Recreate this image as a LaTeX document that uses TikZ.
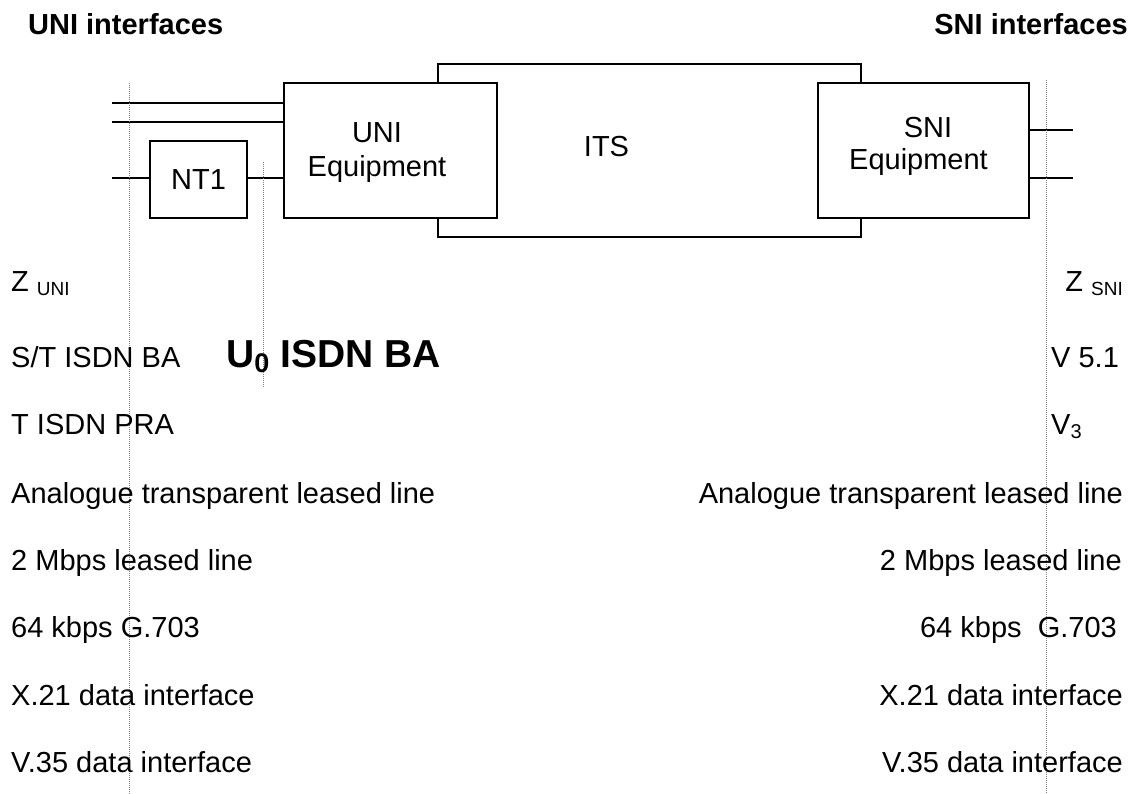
\documentclass[tikz,border=0pt]{standalone}
\usepackage{fontspec}
\setmainfont{Liberation Sans}
\begin{document}
\tikzset{
  box/.style={draw, line width=1.6pt, fill=white, inner sep=0pt},
  wire/.style={line width=1.6pt},
  refline/.style={draw=gray, line width=0.9pt, dash pattern=on 1pt off 1pt},
  txt/.style={inner sep=0pt, font=\fontsize{29}{34}\selectfont},
  hdr/.style={inner sep=0pt, font=\fontsize{29}{34}\selectfont\bfseries},
  big/.style={inner sep=0pt, font=\fontsize{39}{44}\selectfont\bfseries},
}
\begin{tikzpicture}[x=1pt,y=-1pt]
\useasboundingbox (0,0) rectangle (1133,794);
% boxes
\node[box, minimum width=423pt, minimum height=173pt] (its) at (649.5,150.5) {};
\node[box, minimum width=213pt, minimum height=135pt] (uni) at (390.5,150.5) {};
\node[box, minimum width=211pt, minimum height=135pt] (sni) at (923.5,150.5) {};
\node[box, minimum width=97pt, minimum height=77pt, font=\fontsize{29}{34}\selectfont] (nt1) at (198.5,179.5) {NT1};
% box texts
\node[txt, align=center] (unitxt) at (377,152.6) {UNI\\Equipment};
\node[txt, anchor=base] (itstxt) at (606.5,157) {ITS};
\node[txt, align=center] (snitxt) at (918.5,146.6) {\hspace*{19pt}SNI\\[-2pt]Equipment};
% wires
\coordinate (w1) at (112,103);
\coordinate (w2) at (112,122);
\coordinate (w3) at (112,178);
\coordinate (s1) at (1073,130);
\coordinate (s2) at (1073,178);
\draw[wire] (w1) -- (w1 -| uni.west);
\draw[wire] (w2) -- (w2 -| uni.west);
\draw[wire] (w3) -- (w3 -| nt1.west);
\draw[wire] (w3 -| nt1.east) -- (w3 -| uni.west);
\draw[wire] (s1 -| sni.east) -- (s1);
\draw[wire] (s2 -| sni.east) -- (s2);
% reference (dotted) lines
\coordinate (za) at (129,83);
\coordinate (zb) at (129,794);
\coordinate (ua) at (263,162);
\coordinate (ub) at (263,388);
\coordinate (sa) at (1046,80);
\coordinate (sb) at (1046,794);
\draw[refline] (za) -- (zb);
\draw[refline] (ua) -- (ub);
\draw[refline] (sa) -- (sb);
% headers
\node[hdr, anchor=base west] (hu) at (28,35) {UNI interfaces};
\node[hdr, anchor=base east] (hs) at (1128,35) {SNI interfaces};
% left column
\node[txt, anchor=base west] (l1) at (11,292) {Z {\fontsize{19}{20}\selectfont\raisebox{-4pt}{UNI}}};
\node[txt, anchor=base west] (l2) at (11,368) {S/T ISDN BA};
\node[big, anchor=base west] (l2b) at (226,368) {U{\fontsize{27}{28}\selectfont\raisebox{-5pt}{0}} ISDN BA};
\node[txt, anchor=base west] (l3) at (11,434) {T ISDN PRA};
\node[txt, anchor=base west] (l4) at (11,503) {Analogue transparent leased line};
\node[txt, anchor=base west] (l5) at (11,570) {2 Mbps leased line};
\node[txt, anchor=base west] (l6) at (11,637) {64 kbps G.703};
\node[txt, anchor=base west] (l7) at (11,705) {X.21 data interface};
\node[txt, anchor=base west] (l8) at (11,772) {V.35 data interface};
% right column
\node[txt, anchor=base east] (r1) at (1123,292) {Z {\fontsize{19}{20}\selectfont\raisebox{-4pt}{SNI}}};
\node[txt, anchor=base west] (r2) at (1051,368) {V 5.1};
\node[txt, anchor=base west] (r3) at (1051,434) {V{\fontsize{20}{21}\selectfont\raisebox{-5pt}{3}}};
\node[txt, anchor=base east] (r4) at (1123,503) {Analogue transparent leased line};
\node[txt, anchor=base east] (r5) at (1122,570) {2 Mbps leased line};
\node[txt, anchor=base east] (r6) at (1117,637) {64 kbps~~G.703};
\node[txt, anchor=base east] (r7) at (1123,705) {X.21 data interface};
\node[txt, anchor=base east] (r8) at (1123,772) {V.35 data interface};
\end{tikzpicture}
\end{document}
